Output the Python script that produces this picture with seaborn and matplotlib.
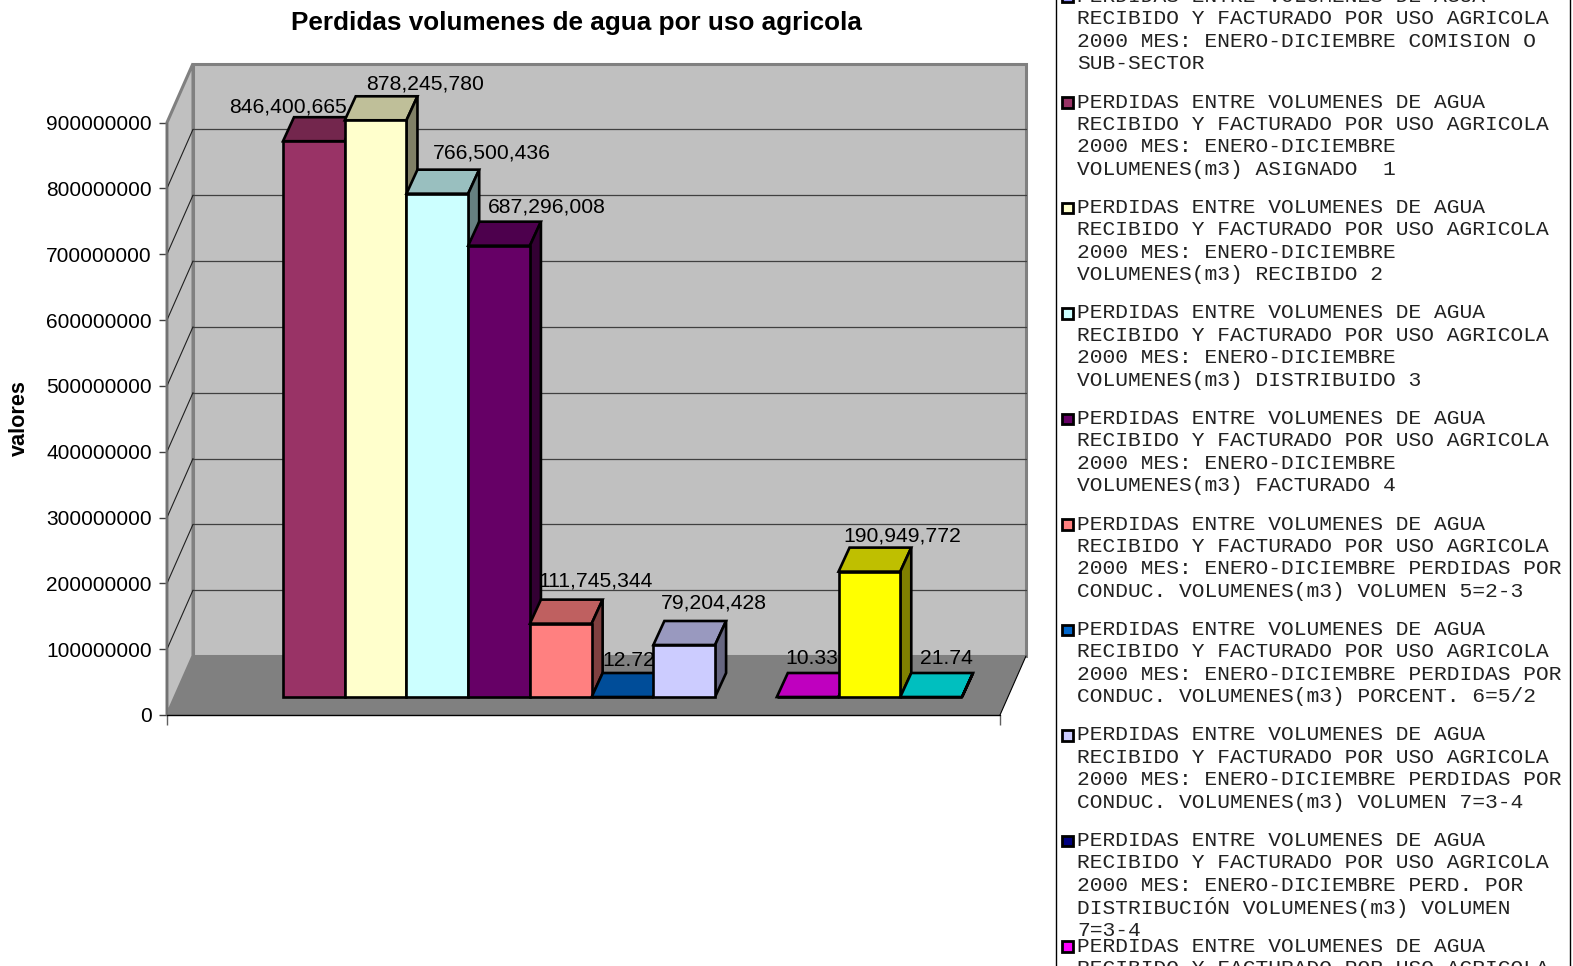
"""Perdidas volumenes de agua por uso agricola: barras con aspecto 3D."""

import matplotlib
matplotlib.use('Agg')
import matplotlib.pyplot as plt
from matplotlib.patches import Polygon, Rectangle
from matplotlib.colors import to_rgb
import pandas as pd
import seaborn as sns

# Datos
categorias = ['ASIGNADO', 'RECIBIDO', 'DISTRIBUIDO', 'FACTURADO', 'VOLUMEN 5', 'PORCENT. 6',
              'VOLUMEN 7', 'PERD. DISTR.', 'PORCENT. 8', 'TOTAL', 'PORCENT. 10']
valores = [846400665, 878245780, 766500436, 687296008, 111745344, 12.72,
           79204428, None, 10.33, 190949772, 21.74]
etiquetas = ['846,400,665', '878,245,780', '766,500,436', '687,296,008', '111,745,344', '12.72',
             '79,204,428', '', '10.33', '190,949,772', '21.74']
colores = ['#993366', '#FFFFCC', '#CCFFFF', '#660066', '#FF8080', '#0066CC',
           '#CCCCFF', '#000080', '#FF00FF', '#FFFF00', '#00FFFF']
ticks_y = [0, 100000000, 200000000, 300000000, 400000000, 500000000,
           600000000, 700000000, 800000000, 900000000]

cab = 'PERDIDAS ENTRE VOLUMENES DE AGUA'
cab2 = 'RECIBIDO Y FACTURADO POR USO AGRICOLA'
mes = '2000 MES: ENERO-DICIEMBRE'
leyenda_textos = [
    [cab, cab2, mes + ' COMISION O', 'SUB-SECTOR'],
    [cab, cab2, mes, 'VOLUMENES(m3) ASIGNADO  1'],
    [cab, cab2, mes, 'VOLUMENES(m3) RECIBIDO 2'],
    [cab, cab2, mes, 'VOLUMENES(m3) DISTRIBUIDO 3'],
    [cab, cab2, mes, 'VOLUMENES(m3) FACTURADO 4'],
    [cab, cab2, mes + ' PERDIDAS POR', 'CONDUC. VOLUMENES(m3) VOLUMEN 5=2-3'],
    [cab, cab2, mes + ' PERDIDAS POR', 'CONDUC. VOLUMENES(m3) PORCENT. 6=5/2'],
    [cab, cab2, mes + ' PERDIDAS POR', 'CONDUC. VOLUMENES(m3) VOLUMEN 7=3-4'],
    [cab, cab2, mes + ' PERD. POR', 'DISTRIBUCIÓN VOLUMENES(m3) VOLUMEN', '7=3-4'],
    [cab, cab2],
]
leyenda_colores = ['#9999FF'] + colores[:9]

W, H = 1573, 966

sns.set_theme(style='white')
plt.rcParams['font.family'] = ['Liberation Sans', 'DejaVu Sans']

fig = plt.figure(figsize=(W / 100, H / 100), dpi=100, facecolor='white')


def caja(x0, y_arriba, x1, y_abajo):
    # de pixeles de la imagen a fracciones de la figura
    return [x0 / W, 1 - y_abajo / H, (x1 - x0) / W, (y_abajo - y_arriba) / H]


def sombra(color, f):
    return tuple(c * f for c in to_rgb(color))


# Paredes y piso
ax = fig.add_axes(caja(167, 122.5, 1000, 715))
ax.set_xlim(0, 1)
ax.set_ylim(0, 900000000)
ax.patch.set_visible(False)
prof_x = 26 / 833
prof_y = 59 / 592.5 * 900000000
ymax = ticks_y[-1]

ax.add_patch(Polygon([(prof_x, prof_y), (1 + prof_x, prof_y), (1 + prof_x, ymax + prof_y), (prof_x, ymax + prof_y)],
                     fc='#C0C0C0', ec='#808080', lw=2.2, clip_on=False, zorder=1))
ax.add_patch(Polygon([(0, 0), (prof_x, prof_y), (prof_x, ymax + prof_y), (0, ymax)],
                     fc='#C0C0C0', ec='#808080', lw=2.2, clip_on=False, zorder=1))
ax.add_patch(Polygon([(0, 0), (1, 0), (1 + prof_x, prof_y), (prof_x, prof_y)],
                     fc='#808080', ec='none', clip_on=False, zorder=2))
for t in ticks_y[1:-1]:
    ax.plot([prof_x, 1 + prof_x], [t + prof_y, t + prof_y], color='#404040', lw=0.9, clip_on=False, zorder=1.5)
    ax.plot([0, prof_x], [t, t + prof_y], color='#202020', lw=0.8, clip_on=False, zorder=1.5)
ax.plot([1, 1 + prof_x], [0, prof_y], color='black', lw=0.8, clip_on=False, zorder=2.5)
ax.plot([0, 0], [0, ymax], color='#707070', lw=1.2, clip_on=False, zorder=2.5)
ax.plot([0, 1], [0, 0], color='black', lw=1.0, clip_on=False, zorder=2.5)

sns.despine(ax=ax, top=True, right=True, left=True, bottom=True)
ax.set_yticks(ticks_y)
ax.set_yticklabels([str(t) for t in ticks_y], fontsize=15.0, color='black')
ax.set_xticks([0, 1])
ax.set_xticklabels(['', ''])
ax.tick_params(axis='y', left=True, length=6, width=1, color='#404040', pad=5)
ax.tick_params(axis='x', bottom=True, length=7, width=1, color='#606060')
ax.set_ylabel('')
fig.text(19 / W, 1 - 418 / H, 'valores', rotation=90, ha='center', va='center',
         fontsize=15.6, fontweight='bold', color='black')
fig.text(576.5 / W, 1 - 23 / H, 'Perdidas volumenes de agua por uso agricola', ha='center', va='center',
         fontsize=18.85, fontweight='bold', color='black')

# Barras: cara frontal con seaborn, y techo y costado a partir de cada barra
df = pd.DataFrame({'categoria': categorias, 'valor': valores})
ax_b = fig.add_axes(caja(283, 106, 962, 697))
sns.barplot(data=df, x='categoria', y='valor', hue='categoria', order=categorias, hue_order=categorias,
            palette=colores, saturation=1, width=1, dodge=False, legend=False, errorbar=None,
            edgecolor='black', linewidth=1.9, ax=ax_b)
ax_b.set_xlim(-0.5, 10.5)
ax_b.set_ylim(0, 900000000)
ax_b.axis('off')
ax_b.patch.set_visible(False)

bar_x = 11 / 61.7
bar_y = 24 / 591 * 900000000
# desplazamiento en pixeles de cada rotulo respecto al centro del techo
rotulo_dx = [-37, 38, 43, 37, 24, -5, 19, 0, -7, 22, 4]
rotulo_dy = [10, 12, 17, 15, 19, 12, 18, 0, 14, 12, 14]

for patch in ax_b.patches:
    h = patch.get_height()
    if pd.isna(h):
        continue
    x0 = patch.get_x()
    x1 = x0 + patch.get_width()
    i = int(round((x0 + x1) / 2))
    color = patch.get_facecolor()[:3]
    z = 3 + i
    patch.set_zorder(z + 0.2)
    patch.set_clip_on(False)
    patch.set_joinstyle('miter')
    ax_b.add_patch(Polygon([(x0, h), (x1, h), (x1 + bar_x, h + bar_y), (x0 + bar_x, h + bar_y)],
                           fc=sombra(color, 0.75), ec='black', lw=1.9, joinstyle='miter', clip_on=False, zorder=z))
    ax_b.add_patch(Polygon([(x1, 0), (x1 + bar_x, bar_y), (x1 + bar_x, h + bar_y), (x1, h)],
                           fc=sombra(color, 0.5), ec='black', lw=1.9, joinstyle='miter', clip_on=False, zorder=z))
    ax_b.annotate(etiquetas[i], xy=((x0 + x1) / 2 + bar_x, h + bar_y), xytext=(rotulo_dx[i], rotulo_dy[i]),
                  textcoords='offset pixels', ha='center', va='center', fontsize=15.2, color='black',
                  annotation_clip=False, zorder=50)

# Leyenda en pixeles, recortada por el borde de la imagen
ax_l = fig.add_axes([0, 0, 1, 1])
ax_l.set_xlim(0, W)
ax_l.set_ylim(H, 0)
ax_l.axis('off')
ax_l.add_patch(Rectangle((1056, -20), 514, H + 40, fc='white', ec='black', lw=1.0))
y_ini = -3.5
for k, (lineas, color) in enumerate(zip(leyenda_textos, leyenda_colores)):
    y = y_ini + k * 105.5
    ax_l.add_patch(Rectangle((1062, y - 5), 11, 10.5, fc=color, ec='black', lw=2, clip_on=False))
    for j, linea in enumerate(lineas):
        ax_l.text(1077, y + j * 22.45, linea, family='Liberation Mono', fontsize=15.32, ha='left',
                  va='center', color='#222222')

fig.savefig('out.png', dpi=100)
